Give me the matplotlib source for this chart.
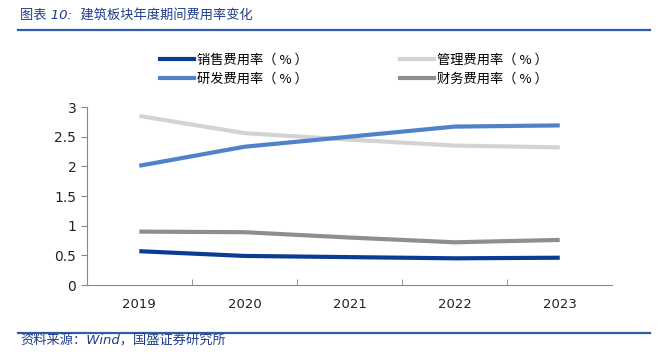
import matplotlib.pyplot as plt
from matplotlib.lines import Line2D

plt.rcParams['font.family'] = ['DejaVu Sans', 'Noto Sans CJK SC']

years = ["2019", "2020", "2021", "2022", "2023"]
sales = [0.57, 0.49, 0.47, 0.45, 0.46]
admin = [2.85, 2.56, 2.45, 2.35, 2.32]
rnd = [2.01, 2.33, 2.50, 2.67, 2.69]
finance = [0.90, 0.89, 0.80, 0.72, 0.76]

names = ["销售费用率（ % ）", "研发费用率（ % ）", "管理费用率（ % ）", "财务费用率（ % ）"]
colors = ["#0B3C94", "#4F82C9", "#D3D3D3", "#8E8E8E"]
series = [sales, rnd, admin, finance]

fig = plt.figure(figsize=(6.67, 3.64), dpi=100)
ax = fig.add_axes([0.130, 0.217, 0.788, 0.489])

x = list(range(len(years)))
# draw order: admin and finance first, then blue lines on top
for idx in [2, 3, 0, 1]:
    ax.plot(x, series[idx], color=colors[idx], lw=3, solid_capstyle="butt", zorder=3)

ax.set_xlim(-0.5, len(years) - 0.5)
ax.set_ylim(0, 3)
ax.set_yticks([0, 0.5, 1, 1.5, 2, 2.5, 3])
ax.set_yticklabels(["0", "0.5", "1", "1.5", "2", "2.5", "3"])
ax.set_xticks(x)
ax.set_xticklabels(years)
ax.set_xticks([0.5, 1.5, 2.5, 3.5], minor=True)
ax.tick_params(axis="x", which="major", length=0, pad=9, labelsize=9.5, colors="#222222")
ax.tick_params(axis="x", which="minor", length=4, direction="in", color="#888888")
ax.tick_params(axis="y", length=4, direction="out", color="#888888", labelsize=10, colors="#222222")
for s in ["top", "right"]:
    ax.spines[s].set_visible(False)
for s in ["left", "bottom"]:
    ax.spines[s].set_color("#888888")
    ax.spines[s].set_linewidth(0.8)

handles = [Line2D([], [], color=c, lw=3) for c in colors]
fig.legend(handles, names, ncol=2, loc="upper left", bbox_to_anchor=(0.222, 0.885),
           frameon=False, handlelength=2.6, handletextpad=0.2,
           columnspacing=7.0, labelspacing=0.45,
           prop={"family": ["Noto Sans CJK SC"], "size": 9.5})

# title and rules
fig.text(0.030, 0.957, "图表 10:  建筑板块年度期间费用率变化", fontsize=9.5, style="italic",
         color="#1F3D8A", va="center", family=["DejaVu Sans", "Noto Sans CJK SC"])
fig.add_artist(Line2D([0.027, 0.975], [0.917, 0.917], color="#2F5DA8", lw=1.6))
fig.add_artist(Line2D([0.027, 0.975], [0.086, 0.086], color="#2F5DA8", lw=1.6))
fig.text(0.030, 0.062, "资料来源：Wind，国盛证券研究所", fontsize=9.5, style="italic",
         color="#1F3D8A", va="center", family=["DejaVu Sans", "Noto Sans CJK SC"])

fig.savefig("out.png", dpi=100)
